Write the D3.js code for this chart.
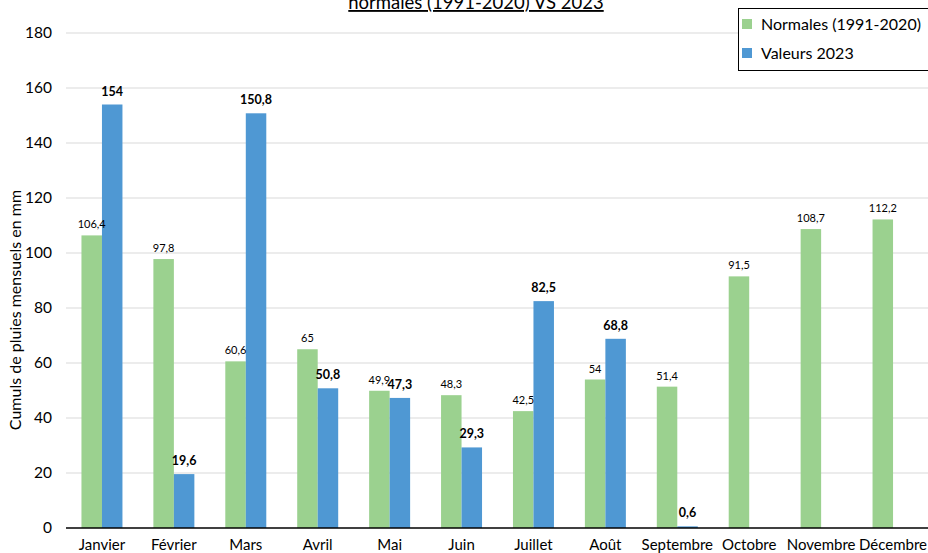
<!DOCTYPE html>
<meta charset="utf-8">
<script src="https://cdnjs.cloudflare.com/ajax/libs/d3/7.8.5/d3.min.js"></script>
<style>
body { margin: 0; background: #fff; }
text { font-family: Lato, "Open Sans", sans-serif; fill: #000; }
.grid line { stroke: #d9d9d9; }
.tick text { font-size: 15.5px; }
</style>
<body>
<script>

// Month names, normals 1991-2020 and 2023 values (mm)
var months = ["Janvier", "Février", "Mars", "Avril", "Mai", "Juin",
              "Juillet", "Août", "Septembre", "Octobre", "Novembre", "Décembre"];
var normales = [106.4, 97.8, 60.6, 65, 49.9, 48.3, 42.5, 54, 51.4, 91.5, 108.7, 112.2];
var valeurs2023 = [154, 19.6, 150.8, 50.8, 47.3, 29.3, 82.5, 68.8, 0.6, null, null, null];
var yTicks = [0, 20, 40, 60, 80, 100, 120, 140, 160, 180];

var width = 928,
    height = 553;

var svg = d3.select("body").append("svg")
    .attr("width", width)
    .attr("height", height);

var x = d3.scaleBand()
    .domain(months)
    .range([66, 929])
    .paddingInner(0.43)
    .paddingOuter(0.215);

var y = d3.scaleLinear()
    .domain([0, 180])
    .range([528, 33]);

var bw = x.bandwidth() / 2;

// gridlines
svg.append("g")
    .attr("class", "grid")
    .selectAll("line")
    .data(yTicks.slice(1))
    .enter().append("line")
    .attr("x1", 66).attr("x2", 929)
    .attr("y1", function(d) { return y(d); })
    .attr("y2", function(d) { return y(d); });

// y axis labels
var yAxis = svg.append("g")
    .attr("transform", "translate(66,0)")
    .call(d3.axisLeft(y).tickValues(yTicks).tickSize(0).tickPadding(14));
yAxis.select(".domain").remove();

svg.append("text")
    .attr("transform", "translate(21,310) rotate(-90)")
    .attr("text-anchor", "middle")
    .style("font-size", "16px")
    .text("Cumuls de pluies mensuels en mm");

// bars: normals
svg.append("g").selectAll("rect")
    .data(normales)
    .enter().append("rect")
    .attr("x", function(d, i) { return x(months[i]); })
    .attr("y", function(d) { return y(d); })
    .attr("width", bw)
    .attr("height", function(d) { return y(0) - y(d); })
    .attr("fill", "#9bd18f");

// bars: 2023
valeurs2023.forEach(function(d, i) {
  if (d == null) return;
  svg.append("rect")
    .attr("x", x(months[i]) + bw)
    .attr("y", y(d))
    .attr("width", bw)
    .attr("height", y(0) - y(d))
    .attr("fill", "#4f98d3");
});

function fmt(v) { return String(v).replace(".", ","); }

// labels
svg.append("g").selectAll("text")
    .data(normales)
    .enter().append("text")
    .attr("x", function(d, i) { return x(months[i]) + bw / 2; })
    .attr("y", function(d) { return y(d) - 7; })
    .attr("text-anchor", "middle")
    .style("font-size", "11px")
    .text(fmt);

valeurs2023.forEach(function(d, i) {
  if (d == null) return;
  svg.append("text")
    .attr("x", x(months[i]) + bw * 1.5)
    .attr("y", y(d) - 9)
    .attr("text-anchor", "middle")
    .style("font-size", "12.5px")
    .style("font-weight", "bold")
    .text(fmt(d));
});

// baseline
svg.append("line")
    .attr("x1", 66).attr("x2", 929)
    .attr("y1", y(0)).attr("y2", y(0))
    .attr("stroke", "#000")
    .attr("stroke-width", 1.3);

// x labels
svg.append("g").selectAll("text")
    .data(months)
    .enter().append("text")
    .attr("x", function(d) { return x(d) + x.bandwidth() / 2; })
    .attr("y", 550)
    .attr("text-anchor", "middle")
    .style("font-size", "15px")
    .text(function(d) { return d; });

// title (second line visible)
svg.append("text")
    .attr("x", 476)
    .attr("y", 9)
    .attr("text-anchor", "middle")
    .style("font-size", "18.5px")
    .style("text-decoration", "underline")
    .text("normales (1991-2020) VS 2023");

// legend
var legend = svg.append("g");
legend.append("rect")
    .attr("x", 738.5).attr("y", 8.5)
    .attr("width", 200).attr("height", 62)
    .attr("fill", "#fff")
    .attr("stroke", "#000");

var legendItems = [["Normales (1991-2020)", "#9bd18f"], ["Valeurs 2023", "#4f98d3"]];
legendItems.forEach(function(d, i) {
  legend.append("rect")
    .attr("x", 742).attr("y", 19 + i * 29)
    .attr("width", 10).attr("height", 10)
    .attr("fill", d[1]);
  legend.append("text")
    .attr("x", 761).attr("y", 30 + i * 29)
    .style("font-size", "16px")
    .text(d[0]);
});

</script>
</body>
